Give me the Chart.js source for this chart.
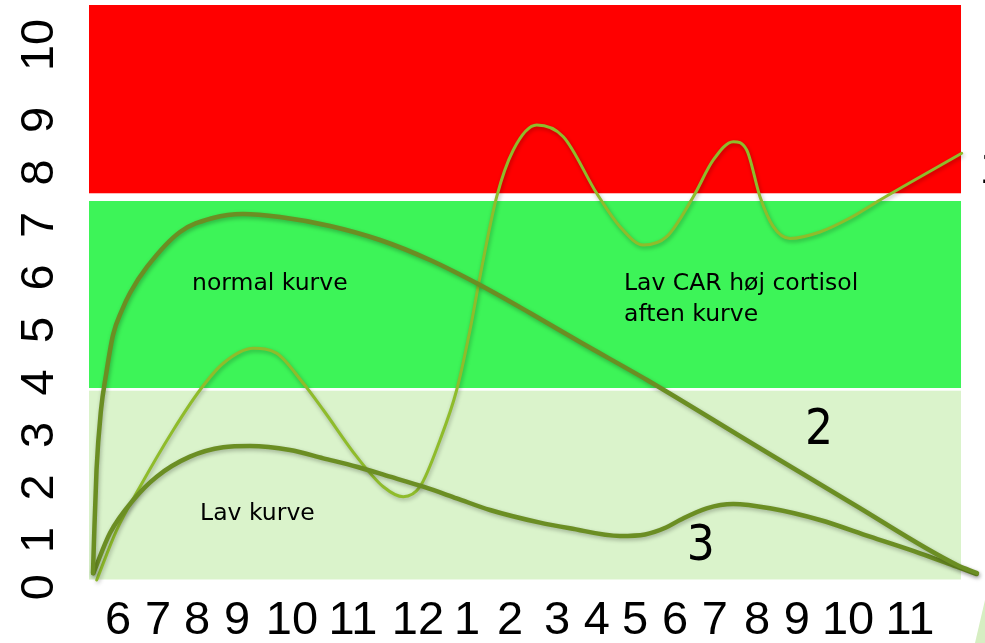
<!DOCTYPE html>
<html>
<head>
<meta charset="utf-8">
<script src="https://cdn.jsdelivr.net/npm/chart.js@4.4.1/dist/chart.umd.min.js"></script>
<style>
html,body{margin:0;padding:0;background:#ffffff;overflow:hidden}
canvas{display:block}
</style>
</head>
<body>
<canvas id="c" width="985" height="643"></canvas>
<script>
// ---- Tick labels (hours of the day, and level scale) ----
const xTickLabels = ['6','7','8','9','10','11','12','1','2','3','4','5','6','7','8','9','10','11'];
const xTickValues = [0, 0.859, 1.696, 2.554, 3.735, 5.044, 6.439, 7.491, 8.414, 9.423, 10.28, 11.10, 11.96, 12.81, 13.72, 14.57, 15.67, 17];
const yTickLabels = ['0','1','2','3','4','5','6','7','8','9','10'];
const yTickValues = [0.1, 1, 2, 3, 4, 5, 6, 7, 8, 9, 10.43];

// ---- Series: "normal kurve" (2) ----
const normalX = [-0.537, -0.515, -0.461, -0.365, -0.258, -0.107, 0.086, 0.258, 0.622, 1.331, 2.039, 2.683, 3.477, 4.551, 5.624, 6.697, 7.77, 8.844, 9.917, 11.355, 13.63, 15.777, 18.009, 18.439];
const normalY = [0.371, 1.0, 2.333, 3.476, 4.143, 4.905, 5.381, 5.705, 6.2, 6.867, 7.133, 7.21, 7.152, 6.981, 6.714, 6.333, 5.857, 5.324, 4.771, 4.048, 2.829, 1.686, 0.524, 0.371];

// ---- Series: "Lav kurve" (3) ----
const lavX = [-0.530, -0.172, 0.328, 0.831, 1.545, 2.26, 2.833, 3.692, 4.407, 5.124, 5.839, 6.553, 7.27, 7.985, 9.058, 9.702, 10.775, 11.312, 11.763, 12.063, 12.636, 13.207, 13.995, 15.068, 16.142, 17.215, 18.002, 18.432];
const lavY = [0.366, 1.133, 1.762, 2.206, 2.587, 2.766, 2.79, 2.714, 2.556, 2.396, 2.206, 2.015, 1.794, 1.571, 1.33, 1.223, 1.076, 1.105, 1.238, 1.381, 1.604, 1.686, 1.604, 1.381, 1.063, 0.747, 0.491, 0.352];

// ---- Series: "Lav CAR høj cortisol aften kurve" (1) ----
const carX = [-0.457, -0.028, 0.472, 1.187, 1.76, 2.26, 2.904, 3.406, 3.977, 4.407, 5.124, 5.695, 6.124, 6.482, 6.912, 7.27, 7.556, 7.77, 8.129, 8.485, 8.987, 9.558, 10.275, 10.775, 11.275, 11.778, 12.349, 12.778, 13.207, 13.495, 13.78, 14.066, 14.424, 15.068, 15.712, 16.356, 18.11];
const carY = [0.238, 1.19, 2.015, 3.095, 3.857, 4.366, 4.651, 4.556, 3.985, 3.476, 2.587, 2.015, 1.825, 2.015, 2.905, 3.857, 5.0, 6.015, 7.539, 8.429, 8.905, 8.682, 7.604, 6.968, 6.619, 6.777, 7.539, 8.238, 8.587, 8.429, 7.539, 6.968, 6.743, 6.867, 7.133, 7.476, 8.366];

// ---- Zones (level ranges) ----
const zoneFrom = [7.604, 3.895, 0.248];
const zoneTo   = [11.19, 7.457, 3.844];
const zoneStartX = -0.6225;
const zoneEndX = 18.095;

function zip(xs, ys) { return xs.map((x, i) => ({ x: x, y: ys[i] })); }

const zoneColors = ['#ff0000', '#3df458', '#daf3cb'];

const annotations = [
  { text: 'normal kurve', x: 1.588, y: 5.762, font: '23.5px "DejaVu Sans"' },
  { text: 'Lav kurve', x: 1.762, y: 1.381, font: '23.5px "DejaVu Sans"' },
  { text: 'Lav CAR høj cortisol', x: 10.861, y: 5.762, font: '23.5px "DejaVu Sans"' },
  { text: 'aften kurve', x: 10.861, y: 5.171, font: '23.5px "DejaVu Sans"' },
  { text: '2', x: 14.746, y: 2.829, font: '49px "DejaVu Sans Condensed", "DejaVu Sans"' },
  { text: '3', x: 12.207, y: 0.619, font: '49px "DejaVu Sans Condensed", "DejaVu Sans"' },
  { text: '1', x: 18.49, y: 7.8, font: '49px "Liberation Sans"' }
];

const zonesPlugin = {
  id: 'zones',
  beforeDatasetsDraw(chart) {
    const { ctx, scales: { x, y } } = chart;
    const x0 = x.getPixelForValue(zoneStartX);
    const x1 = x.getPixelForValue(zoneEndX);
    ctx.save();
    for (let i = 0; i < zoneFrom.length; i++) {
      const yt = y.getPixelForValue(zoneTo[i]);
      const yb = y.getPixelForValue(zoneFrom[i]);
      ctx.fillStyle = zoneColors[i];
      ctx.fillRect(x0, yt, x1 - x0, yb - yt);
    }
    ctx.restore();
  }
};

const shadowPlugin = {
  id: 'lineShadow',
  beforeDatasetDraw(chart) {
    const ctx = chart.ctx;
    ctx.save();
    ctx.shadowColor = 'rgba(0,0,0,0.28)';
    ctx.shadowBlur = 4;
    ctx.shadowOffsetX = 1;
    ctx.shadowOffsetY = 2;
  },
  afterDatasetDraw(chart) {
    chart.ctx.restore();
  }
};

const textPlugin = {
  id: 'texts',
  afterDatasetsDraw(chart) {
    const { ctx, scales: { x, y } } = chart;
    ctx.save();
    ctx.fillStyle = '#000';
    ctx.textAlign = 'left';
    ctx.textBaseline = 'alphabetic';
    annotations.forEach(a => {
      ctx.font = a.font;
      ctx.fillText(a.text, x.getPixelForValue(a.x), y.getPixelForValue(a.y));
    });
    ctx.restore();
  },
  afterDraw(chart) {
    const { ctx, scales: { y } } = chart;
    ctx.save();
    ctx.fillStyle = '#000';
    ctx.font = '47px "Liberation Sans", Arial, sans-serif';
    ctx.textAlign = 'center';
    ctx.textBaseline = 'middle';
    yTickValues.forEach((v, i) => {
      ctx.save();
      ctx.translate(40, y.getPixelForValue(v));
      ctx.rotate(-Math.PI / 2);
      ctx.fillText(yTickLabels[i], 0, 0);
      ctx.restore();
    });
    // small decorative corner shape of the slide
    ctx.fillStyle = '#d6eec2';
    ctx.beginPath();
    ctx.moveTo(975, 643);
    ctx.lineTo(985, 643);
    ctx.lineTo(985, 600);
    ctx.closePath();
    ctx.fill();
    ctx.restore();
  }
};

const lineCommon = { pointRadius: 0, fill: false, cubicInterpolationMode: 'monotone', borderCapStyle: 'round', borderJoinStyle: 'round' };

new Chart(document.getElementById('c'), {
  type: 'line',
  data: {
    datasets: [
      Object.assign({ label: 'normal kurve', data: zip(normalX, normalY), borderColor: '#6b8e23', borderWidth: 4.5 }, lineCommon),
      Object.assign({ label: 'Lav kurve', data: zip(lavX, lavY), borderColor: '#6b8e23', borderWidth: 4.5 }, lineCommon),
      Object.assign({ label: 'Lav CAR høj cortisol aften kurve', data: zip(carX, carY), borderColor: '#8fbc2b', borderWidth: 3 }, lineCommon)
    ]
  },
  options: {
    responsive: false,
    devicePixelRatio: 1,
    animation: false,
    layout: { padding: { left: 89, right: 0, top: 5, bottom: 0 } },
    plugins: { legend: { display: false }, tooltip: { enabled: false } },
    scales: {
      x: {
        type: 'linear',
        min: -0.6225,
        max: 18.61,
        grid: { display: false, drawTicks: false },
        border: { display: false },
        afterBuildTicks: (scale) => { scale.ticks = xTickValues.map(v => ({ value: v })); },
        ticks: {
          autoSkip: false,
          maxRotation: 0,
          minRotation: 0,
          padding: 1,
          color: '#000',
          font: { family: '"Liberation Sans", Arial, sans-serif', size: 47, lineHeight: 0.9 },
          callback: (v, i) => xTickLabels[i]
        }
      },
      y: {
        type: 'linear',
        display: false,
        min: -0.118,
        max: 11.19
      }
    }
  },
  plugins: [zonesPlugin, shadowPlugin, textPlugin]
});
</script>
</body>
</html>
